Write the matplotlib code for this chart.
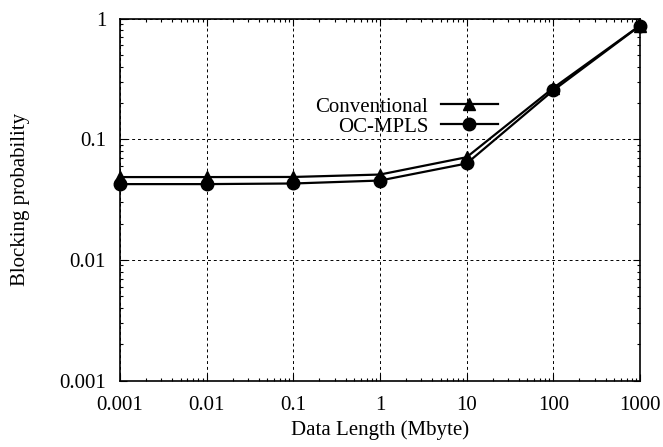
import numpy as np
import matplotlib
matplotlib.use("Agg")
import matplotlib.pyplot as plt
from matplotlib.ticker import LogLocator, FixedLocator, NullFormatter

plt.rcParams['font.family'] = ['Liberation Serif', 'DejaVu Serif']

data_len = [0.001, 0.01, 0.1, 1, 10, 100, 1000]
conventional = [0.0486, 0.0486, 0.0487, 0.051, 0.071, 0.266, 0.875]
ocmpls = [0.0425, 0.0425, 0.0430, 0.0455, 0.063, 0.254, 0.872]
xtick_labels = ['0.001', '0.01', '0.1', '1', '10', '100', '1000']
ytick_vals = [0.001, 0.01, 0.1, 1]
ytick_labels = ['0.001', '0.01', '0.1', '1']

fs = 15

fig = plt.figure(figsize=(6.63, 4.47), dpi=100)
ax = fig.add_axes([0.181, 0.1483, 0.7843, 0.8103])

ax.plot(data_len, conventional, color='black', lw=1.6, marker='^', ms=9,
        label='Conventional', clip_on=False, zorder=3)
ax.plot(data_len, ocmpls, color='black', lw=1.6, marker='o', ms=9,
        label='OC-MPLS', clip_on=False, zorder=3)

ax.set_xscale('log')
ax.set_yscale('log')
ax.set_xlim(0.001, 1000)
ax.set_ylim(0.001, 1)

ax.xaxis.set_major_locator(FixedLocator(data_len))
ax.set_xticklabels(xtick_labels)
ax.yaxis.set_major_locator(FixedLocator(ytick_vals))
ax.set_yticklabels(ytick_labels)
ax.xaxis.set_minor_locator(LogLocator(base=10, subs=np.arange(2, 10), numticks=20))
ax.yaxis.set_minor_locator(LogLocator(base=10, subs=np.arange(2, 10), numticks=20))
ax.xaxis.set_minor_formatter(NullFormatter())
ax.yaxis.set_minor_formatter(NullFormatter())

ax.tick_params(which='both', direction='in', top=True, right=True, labelsize=fs)
ax.tick_params(axis='x', pad=11)
ax.tick_params(axis='y', pad=10)
ax.tick_params(which='major', length=5, width=0.8)
ax.tick_params(which='minor', length=2.5, width=0.8)

ax.grid(True, which='major', linestyle=(0, (3, 3)), color='black', lw=0.7)
for s in ax.spines.values():
    s.set_linewidth(1.2)

ax.set_xlabel('Data Length (Mbyte)', fontsize=fs, labelpad=4)
ax.set_ylabel('Blocking probability', fontsize=fs, labelpad=21)

leg = ax.legend(loc='upper right', bbox_to_anchor=(0.727, 0.783), frameon=False,
                markerfirst=False, fontsize=fs, handlelength=2.75,
                handletextpad=0.6, labelspacing=0.02, borderaxespad=0,
                borderpad=0)

fig.savefig('out.png', dpi=100)
